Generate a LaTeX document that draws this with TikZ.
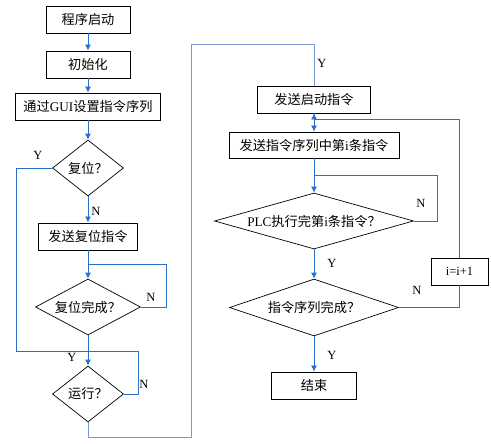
\documentclass[tikz,border=0pt]{standalone}
\usepackage{fontspec}
\setmainfont{Liberation Serif}
\newfontfamily\cjk{Noto Sans CJK SC}
\usetikzlibrary{shapes.geometric,arrows.meta}
\definecolor{flowblue}{RGB}{40,112,200}
\definecolor{backblue}{RGB}{118,152,215}

\begin{document}
\begin{tikzpicture}[x=1pt,y=-1pt]
    \tikzstyle{box} = [draw, line width=0.9pt, rectangle, minimum height=27pt, inner sep=0pt, font=\fontsize{13.2}{15}\selectfont\cjk]
    \tikzstyle{dia} = [draw, line width=0.7pt, diamond, inner sep=0pt, font=\fontsize{13.2}{15}\selectfont\cjk]
    \tikzstyle{go} = [flowblue, line width=0.8pt, -{Latex[length=6pt,width=6pt]}]
    \tikzstyle{loop} = [flowblue, line width=0.8pt]
    \tikzstyle{back} = [backblue, line width=1pt]
    \tikzstyle{ann} = [draw=none, fill=none, font=\fontsize{12.5}{14}\selectfont]

    \useasboundingbox (0,0) rectangle (491,444);

    % left column
    \node[box, minimum width=84pt] (start) at (88,19.5) {程序启动};
    \node[box, minimum width=84pt] (init) at (88,64.5) {初始化};
    \node[box, minimum width=145pt] (gui) at (88,106.5) {通过{\rmfamily GUI}设置指令序列};
    \node[dia, aspect=1.27, minimum width=71pt, minimum height=56pt] (reset) at (88,168) {复位？};
    \node[box, minimum width=99pt] (sendreset) at (88,236.5) {发送复位指令};
    \node[dia, aspect=1.9, minimum width=105pt, minimum height=56pt] (resetdone) at (88,307) {复位完成？};
    \node[dia, aspect=1.27, minimum width=71pt, minimum height=56pt] (run) at (88,394) {运行？};

    % right column
    \node[box, minimum width=113pt] (sendstart) at (314,99.5) {发送启动指令};
    \node[box, minimum width=170pt, minimum height=26pt] (sendi) at (314,145) {发送指令序列中第{\rmfamily i}条指令};
    \node[dia, aspect=3.55, minimum width=199pt, minimum height=56pt] (plc) at (314,221) {{\rmfamily PLC}执行完第{\rmfamily i}条指令？};
    \node[dia, aspect=3, minimum width=169pt, minimum height=57pt] (seqdone) at (314,307.5) {指令序列完成？};
    \node[box, minimum width=57pt, font=\fontsize{12.5}{14}\selectfont] (inc) at (459.5,271.5) {i=i+1};
    \node[box, minimum width=85pt] (finish) at (314,385.5) {结束};

    % corners and joins
    \coordinate (j1) at (88,264);
    \coordinate (c1) at (166,264);
    \coordinate (c2) at (16,351);
    \coordinate (c3) at (138,351);
    \coordinate (c4) at (191,437);
    \coordinate (c5) at (191,45);
    \coordinate (j2) at (314,119);
    \coordinate (j3) at (314,175);
    \coordinate (c6) at (437,175);

    % labels
    \node[ann] (yreset) at (38,155) {Y};
    \node[ann] (nreset) at (96,211) {N};
    \node[ann] (nresetdone) at (151,297) {N};
    \node[ann] (yresetdone) at (72,357) {Y};
    \node[ann] (nrun) at (144,384) {N};
    \node[ann] (yrun) at (322,63) {Y};
    \node[ann] (nplc) at (421,203) {N};
    \node[ann] (yplc) at (332,263) {Y};
    \node[ann] (nseq) at (417,290) {N};
    \node[ann] (yseq) at (332,355) {Y};

    \draw[go]  (start) -- (init);
    \draw[go]  (init) -- (gui);
    \draw[go]  (gui) -- (reset);
    \draw[go]  (reset) -- (sendreset);
    \draw[go]  (sendreset) -- (resetdone);
    \draw[loop]  (resetdone.east) -| (c1) -- (j1);
    \draw[loop]  (reset.west) -| (c2) -- (c3) |- (run.east);
    \draw[go]  (resetdone) -- (run);
    \draw[back]  (run.south) |- (c4) -- (c5) -| (sendstart.north);

    \draw[go]  (sendstart) -- (sendi);
    \draw[go]  (inc.north) |- (j2) -- (sendstart.south);
    \draw[go]  (sendi) -- (plc);
    \draw[loop]  (plc.east) -| (c6) -- (j3);
    \draw[go]  (plc) -- (seqdone);
    \draw[loop]  (seqdone.east) -| (inc.south);
    \draw[go]  (seqdone) -- (finish);

\end{tikzpicture}
\end{document}
